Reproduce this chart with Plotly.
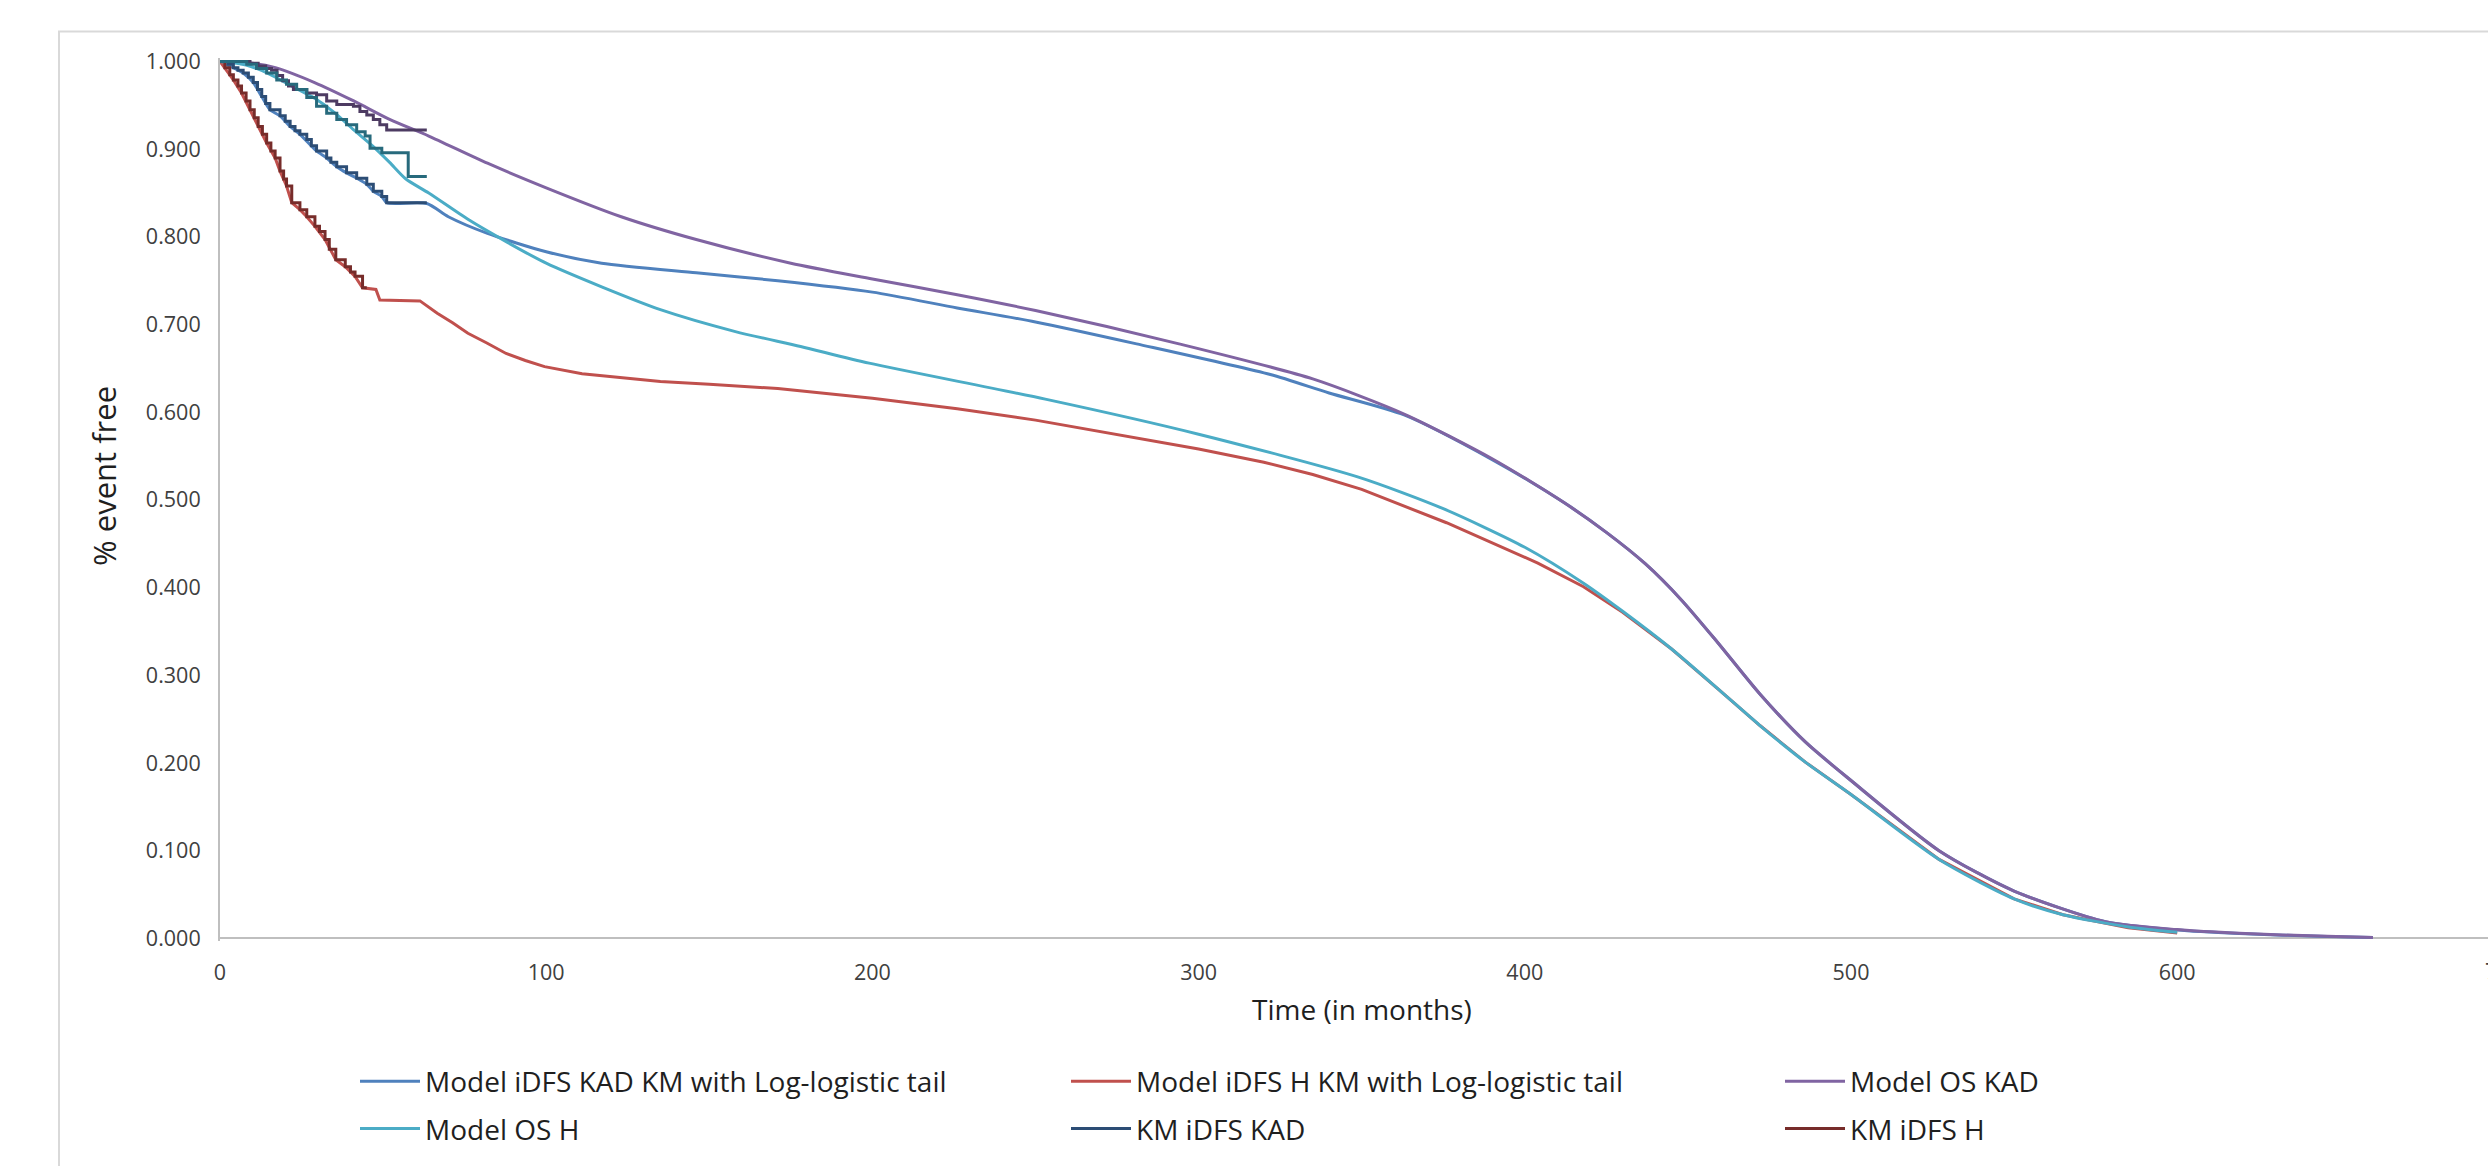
import plotly.graph_objects as go

# ---------------- data ----------------
x_ticks = [0, 100, 200, 300, 400, 500, 600]
x_tick_labels = ["0", "100", "200", "300", "400", "500", "600"]
y_ticks = [0.0, 0.1, 0.2, 0.3, 0.4, 0.5, 0.6, 0.7, 0.8, 0.9, 1.0]
y_tick_labels = ["0.000", "0.100", "0.200", "0.300", "0.400", "0.500",
                 "0.600", "0.700", "0.800", "0.900", "1.000"]

# Model iDFS KAD KM with Log-logistic tail
m_idfs_kad_t = [0, 4.1, 7.1, 10.2, 12.8, 15.3, 18.4, 21.5, 24.5, 29.6, 32.7, 35.8, 38.8,
                41.9, 45, 47, 49.6, 51.1, 63.4, 70, 82, 100, 117, 146, 171, 200, 226,
                250, 281, 322, 340, 363, 390, 412, 425, 437, 448, 459, 472, 486, 500,
                527, 550, 578, 600, 619, 646, 660]
m_idfs_kad_s = [1.0, 0.993, 0.987, 0.976, 0.960, 0.945, 0.938, 0.926, 0.917, 0.898, 0.890,
                0.880, 0.873, 0.867, 0.860, 0.852, 0.846, 0.839, 0.838, 0.823, 0.804,
                0.783, 0.770, 0.759, 0.750, 0.737, 0.719, 0.703, 0.678, 0.643, 0.622,
                0.597, 0.546, 0.497, 0.463, 0.427, 0.386, 0.338, 0.279, 0.224, 0.180,
                0.100, 0.054, 0.019, 0.0095, 0.0055, 0.002, 0.001]

# Model iDFS H KM with Log-logistic tail
m_idfs_h_t = [0, 4.1, 6.6, 9.2, 11.7, 14.3, 16.9, 18.4, 20.4, 22, 24.5, 26.6, 29.1, 32.2,
              35.5, 38.4, 41.4, 43.7, 47.8, 49.0, 61.3, 66.6, 71.3, 76, 81.8, 87.7, 93.6,
              99.5, 111, 135, 150, 171, 200, 226, 250, 281, 300, 320, 335, 350, 376, 404,
              418, 430, 445, 460, 472, 486, 500, 527, 550, 565, 585, 600]
m_idfs_h_s = [1.0, 0.979, 0.964, 0.945, 0.926, 0.907, 0.890, 0.875, 0.858, 0.839, 0.831,
              0.823, 0.812, 0.797, 0.774, 0.766, 0.755, 0.742, 0.740, 0.728, 0.727, 0.713,
              0.702, 0.690, 0.679, 0.667, 0.659, 0.652, 0.644, 0.635, 0.632, 0.627, 0.616,
              0.604, 0.591, 0.571, 0.558, 0.543, 0.529, 0.512, 0.474, 0.428, 0.401, 0.372,
              0.330, 0.282, 0.243, 0.201, 0.164, 0.090, 0.045, 0.027, 0.012, 0.006]

# Model OS KAD
m_os_kad_t = [0, 10, 17, 29, 41, 52, 64, 82, 100, 123, 146, 175, 200, 226, 250, 294, 335,
              363, 390, 412, 425, 437, 448, 459, 472, 486, 500, 527, 550, 578, 600, 619,
              646, 660]
m_os_kad_s = [1.0, 0.998, 0.993, 0.976, 0.955, 0.934, 0.915, 0.884, 0.856, 0.823, 0.797,
              0.770, 0.752, 0.734, 0.716, 0.678, 0.638, 0.598, 0.547, 0.497, 0.463, 0.427,
              0.386, 0.338, 0.279, 0.224, 0.180, 0.100, 0.054, 0.019, 0.010, 0.0057,
              0.0023, 0.001]

# Model OS H
m_os_h_t = [0, 8, 15, 22, 29, 35, 41, 47, 52, 57, 64, 76, 88, 100, 117, 135, 158, 178,
            199, 253, 300, 349, 375, 400, 418, 430, 445, 460, 472, 486, 500, 527, 550,
            565, 585, 600]
m_os_h_s = [1.0, 0.996, 0.986, 0.972, 0.958, 0.942, 0.922, 0.903, 0.885, 0.866, 0.850,
            0.820, 0.794, 0.770, 0.743, 0.717, 0.692, 0.675, 0.656, 0.615, 0.575, 0.526,
            0.490, 0.446, 0.405, 0.373, 0.330, 0.282, 0.243, 0.201, 0.164, 0.090, 0.045,
            0.027, 0.013, 0.007]

# KM iDFS KAD
km_idfs_kad_t = [0, 2.5, 4.1, 5.5, 7.1, 8.7, 10.2, 11.5, 12.8, 14, 15.3, 18.4, 20, 21.5,
                 23, 24.5, 26.6, 28, 29.6, 32.7, 34, 35.8, 38.8, 41.9, 45, 47, 49.6,
                 51.1, 63.4]
km_idfs_kad_s = [1.0, 0.997, 0.993, 0.990, 0.987, 0.982, 0.976, 0.968, 0.960, 0.952, 0.945,
                 0.938, 0.932, 0.926, 0.921, 0.917, 0.911, 0.904, 0.898, 0.890, 0.885,
                 0.880, 0.873, 0.867, 0.860, 0.852, 0.846, 0.839, 0.839]

# KM iDFS H
km_idfs_h_t = [0, 1.5, 3, 4.1, 5.5, 6.6, 8, 9.2, 10.5, 11.7, 13, 14.3, 15.6, 16.9, 18.4,
               19.5, 20.4, 22, 24.5, 26.6, 29.1, 30.5, 32.2, 33.5, 35.5, 38.4, 40, 41.4,
               43.7, 45]
km_idfs_h_s = [1.0, 0.993, 0.985, 0.979, 0.972, 0.964, 0.955, 0.945, 0.936, 0.926, 0.917,
               0.907, 0.898, 0.890, 0.875, 0.866, 0.858, 0.839, 0.831, 0.823, 0.812, 0.806,
               0.797, 0.786, 0.774, 0.766, 0.760, 0.755, 0.742, 0.742]

# KM OS KAD
km_os_kad_t = [0, 9.2, 11.7, 14, 15.8, 17.5, 19.2, 21, 22.5, 26.6, 29.6, 32.7, 35.8, 40.9,
               42.9, 45, 47, 49, 51.1, 63.4]
km_os_kad_s = [1.0, 0.998, 0.995, 0.992, 0.990, 0.984, 0.978, 0.972, 0.968, 0.964, 0.962,
               0.955, 0.951, 0.949, 0.943, 0.939, 0.934, 0.928, 0.922, 0.922]

# KM OS H
km_os_h_t = [0, 8.2, 11.2, 14.3, 17.4, 20.4, 23.5, 26.6, 29.6, 32.7, 35.8, 38.8, 41.9,
             44.5, 46, 49.6, 57.7, 63.4]
km_os_h_s = [1.0, 0.997, 0.992, 0.987, 0.979, 0.974, 0.968, 0.959, 0.949, 0.941, 0.934,
             0.928, 0.920, 0.915, 0.901, 0.896, 0.869, 0.869]

# ---------------- layout geometry ----------------
W, H = 2488, 1166
L, R = 220, 0
y_lo, y_hi = -0.003, 1.004
px_per_unit = 876.0
T = 62 - (y_hi - 1.0) * px_per_unit
B_edge = 938 + (0 - y_lo) * px_per_unit
Bm = H - B_edge
x_per100 = 326.2
x_max = (W - R - L) / x_per100 * 100
PW = W - L - R
PH = B_edge - T


def px_x(px):
    return (px - L) / PW


def px_y(py):
    return (B_edge - py) / PH


FONT = "Open Sans"
TICK_COLOR = "#404040"
TEXT_COLOR = "#1f1f1f"

fig = go.Figure()

models = [
    ("Model iDFS KAD KM with Log-logistic tail", m_idfs_kad_t, m_idfs_kad_s, "#4F81BD", "legend", "spline"),
    ("Model iDFS H KM with Log-logistic tail", m_idfs_h_t, m_idfs_h_s, "#C0504D", "legend2", "linear"),
    ("Model OS KAD", m_os_kad_t, m_os_kad_s, "#8064A2", "legend3", "spline"),
    ("Model OS H", m_os_h_t, m_os_h_s, "#4BACC6", "legend", "spline"),
]
for i, (name, t, s, c, lg, shp) in enumerate(models):
    line = dict(color=c, width=3, shape=shp)
    if shp == "spline":
        line["smoothing"] = 0.7
    fig.add_trace(go.Scatter(
        x=t, y=s, mode="lines", name=name, line=line,
        legend=lg, legendgroup=f"g{i}", hoverinfo="x+y+name"))

kms = [
    ("KM iDFS KAD", km_idfs_kad_t, km_idfs_kad_s, "#2C4D75", "legend2", True),
    ("KM iDFS H", km_idfs_h_t, km_idfs_h_s, "#772C2A", "legend3", True),
    ("KM OS KAD", km_os_kad_t, km_os_kad_s, "#4D3B62", "legend3", False),
    ("KM OS H", km_os_h_t, km_os_h_s, "#276A7C", "legend3", False),
]
for i, (name, t, s, c, lg, show) in enumerate(kms):
    fig.add_trace(go.Scatter(
        x=t, y=s, mode="lines", name=name,
        line=dict(color=c, width=3, shape="hv"),
        legend=lg, legendgroup=f"k{i}", showlegend=show, hoverinfo="x+y+name"))

leg_common = dict(
    orientation="v", xanchor="left", yanchor="top",
    font=dict(family=FONT, size=28, color=TEXT_COLOR),
    bgcolor="rgba(0,0,0,0)", borderwidth=0,
    itemwidth=60, tracegroupgap=8, itemclick=False, itemdoubleclick=False,
)
leg_top = px_y(1056)

fig.update_layout(
    width=W, height=H,
    margin=dict(l=L, r=R, t=T, b=Bm, autoexpand=False),
    paper_bgcolor="white", plot_bgcolor="white",
    font=dict(family=FONT, color=TICK_COLOR),
    legend=dict(leg_common, x=px_x(355), y=leg_top),
    legend2=dict(leg_common, x=px_x(1066), y=leg_top),
    legend3=dict(leg_common, x=px_x(1780), y=leg_top),
    xaxis=dict(
        range=[0, x_max], tickvals=x_ticks, ticktext=x_tick_labels,
        showgrid=False, zeroline=False, showline=False, ticks="",
        tickfont=dict(family=FONT, size=21.5, color=TICK_COLOR),
        ticklabelstandoff=16, fixedrange=True,
    ),
    yaxis=dict(
        range=[y_lo, y_hi], tickvals=y_ticks, ticktext=y_tick_labels,
        showgrid=False, zeroline=True, zerolinecolor="#bfbfbf", zerolinewidth=2,
        showline=True, linecolor="#bfbfbf", linewidth=2, ticks="",
        tickfont=dict(family=FONT, size=21.5, color=TICK_COLOR),
        ticklabelstandoff=13, fixedrange=True,
    ),
    showlegend=True,
)

# outer chart frame (partly outside the picture, as in the reference)
fig.add_shape(type="rect", xref="paper", yref="paper",
              x0=px_x(59), x1=1.3, y0=-0.6, y1=px_y(32),
              line=dict(color="#d9d9d9", width=2), fillcolor="rgba(0,0,0,0)", layer="below")

# axis titles
fig.add_annotation(text="Time (in months)", xref="paper", yref="paper",
                   x=px_x(1362), y=px_y(1009), xanchor="center", yanchor="middle",
                   showarrow=False, font=dict(family=FONT, size=28, color=TEXT_COLOR))
fig.add_annotation(text="% event free", xref="paper", yref="paper",
                   x=px_x(104), y=px_y(476), xanchor="center", yanchor="middle",
                   textangle=-90, showarrow=False,
                   font=dict(family=FONT, size=31, color=TEXT_COLOR))
# last x tick label "700": its position lies just beyond the right edge of the picture
fig.add_annotation(text="700", xref="paper", yref="paper",
                   x=px_x(L + 7 * x_per100), y=px_y(970),
                   xanchor="center", yanchor="middle", showarrow=False,
                   font=dict(family=FONT, size=21.5, color=TICK_COLOR))

fig.write_html(
    "out.html",
    config={"displayModeBar": False},
    post_script="document.body.style.margin='0px';document.body.style.overflow='hidden';",
)
